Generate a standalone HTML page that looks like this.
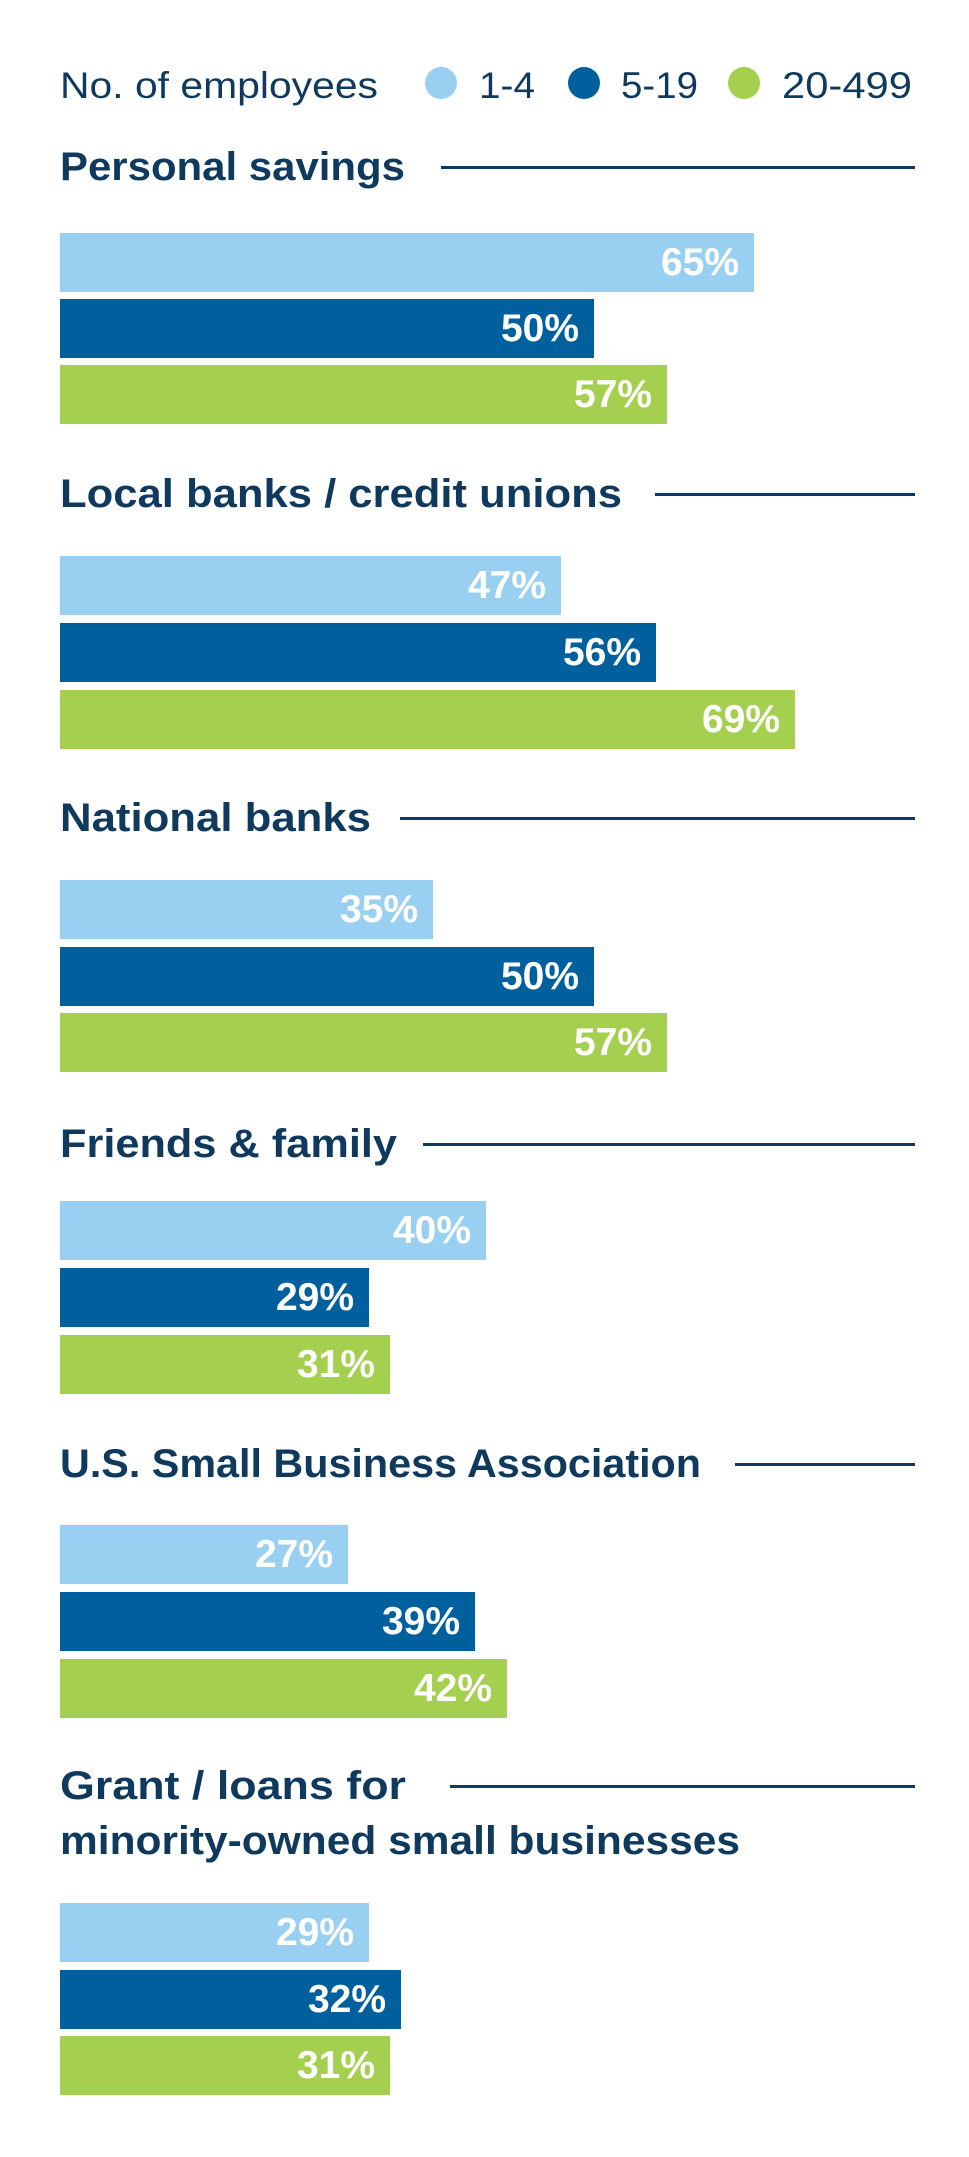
<!DOCTYPE html>
<html><head><meta charset="utf-8"><style>
html,body{margin:0;padding:0;background:#fff;}
svg{display:block;}
text{font-family:"Liberation Sans",sans-serif;}
.t{font-weight:bold;font-size:40px;fill:#0f3a5e;}
.v{font-weight:bold;font-size:39px;fill:#fff;text-anchor:end;}
.l{font-size:37px;fill:#0f3a5e;}
</style></head><body>
<svg width="969" height="2157" viewBox="0 0 969 2157" xmlns="http://www.w3.org/2000/svg">
<text class="l" x="60" y="98" textLength="318" lengthAdjust="spacingAndGlyphs">No. of employees</text>
<circle cx="441" cy="83" r="16" fill="#99d0f2"/>
<text class="l" x="479" y="98" textLength="56" lengthAdjust="spacingAndGlyphs">1-4</text>
<circle cx="584" cy="83" r="16" fill="#00609e"/>
<text class="l" x="621" y="98" textLength="77" lengthAdjust="spacingAndGlyphs">5-19</text>
<circle cx="744" cy="83" r="16" fill="#a5cf4f"/>
<text class="l" x="782" y="98" textLength="130" lengthAdjust="spacingAndGlyphs">20-499</text>

<!-- Personal savings -->
<text class="t" x="60" y="180" textLength="345" lengthAdjust="spacingAndGlyphs">Personal savings</text>
<rect x="441" y="166" width="474" height="3" fill="#0f3a5e"/>
<rect x="60" y="233" width="694" height="59" fill="#99d0f2"/><text class="v" x="739" y="275">65%</text>
<rect x="60" y="299" width="534" height="59" fill="#00609e"/><text class="v" x="579" y="341">50%</text>
<rect x="60" y="365" width="607" height="59" fill="#a5cf4f"/><text class="v" x="652" y="407">57%</text>

<!-- Local banks -->
<text class="t" x="60" y="507" textLength="562" lengthAdjust="spacingAndGlyphs">Local banks / credit unions</text>
<rect x="655" y="493" width="260" height="3" fill="#0f3a5e"/>
<rect x="60" y="556" width="501" height="59" fill="#99d0f2"/><text class="v" x="546" y="598">47%</text>
<rect x="60" y="623" width="596" height="59" fill="#00609e"/><text class="v" x="641" y="665">56%</text>
<rect x="60" y="690" width="735" height="59" fill="#a5cf4f"/><text class="v" x="780" y="732">69%</text>

<!-- National banks -->
<text class="t" x="60" y="831" textLength="311" lengthAdjust="spacingAndGlyphs">National banks</text>
<rect x="400" y="817" width="515" height="3" fill="#0f3a5e"/>
<rect x="60" y="880" width="373" height="59" fill="#99d0f2"/><text class="v" x="418" y="922">35%</text>
<rect x="60" y="947" width="534" height="59" fill="#00609e"/><text class="v" x="579" y="989">50%</text>
<rect x="60" y="1013" width="607" height="59" fill="#a5cf4f"/><text class="v" x="652" y="1055">57%</text>

<!-- Friends & family -->
<text class="t" x="60" y="1157" textLength="337" lengthAdjust="spacingAndGlyphs">Friends &amp; family</text>
<rect x="423" y="1143" width="492" height="3" fill="#0f3a5e"/>
<rect x="60" y="1201" width="426" height="59" fill="#99d0f2"/><text class="v" x="471" y="1243">40%</text>
<rect x="60" y="1268" width="309" height="59" fill="#00609e"/><text class="v" x="354" y="1310">29%</text>
<rect x="60" y="1335" width="330" height="59" fill="#a5cf4f"/><text class="v" x="375" y="1377">31%</text>

<!-- USSBA -->
<text class="t" x="60" y="1477" textLength="641" lengthAdjust="spacingAndGlyphs">U.S. Small Business Association</text>
<rect x="735" y="1463" width="180" height="3" fill="#0f3a5e"/>
<rect x="60" y="1525" width="288" height="59" fill="#99d0f2"/><text class="v" x="333" y="1567">27%</text>
<rect x="60" y="1592" width="415" height="59" fill="#00609e"/><text class="v" x="460" y="1634">39%</text>
<rect x="60" y="1659" width="447" height="59" fill="#a5cf4f"/><text class="v" x="492" y="1701">42%</text>

<!-- Grant -->
<text class="t" x="60" y="1799" textLength="346" lengthAdjust="spacingAndGlyphs">Grant / loans for</text>
<text class="t" x="60" y="1854" textLength="680" lengthAdjust="spacingAndGlyphs">minority-owned small businesses</text>
<rect x="450" y="1785" width="465" height="3" fill="#0f3a5e"/>
<rect x="60" y="1903" width="309" height="59" fill="#99d0f2"/><text class="v" x="354" y="1945">29%</text>
<rect x="60" y="1970" width="341" height="59" fill="#00609e"/><text class="v" x="386" y="2012">32%</text>
<rect x="60" y="2036" width="330" height="59" fill="#a5cf4f"/><text class="v" x="375" y="2078">31%</text>
</svg>
</body></html>
